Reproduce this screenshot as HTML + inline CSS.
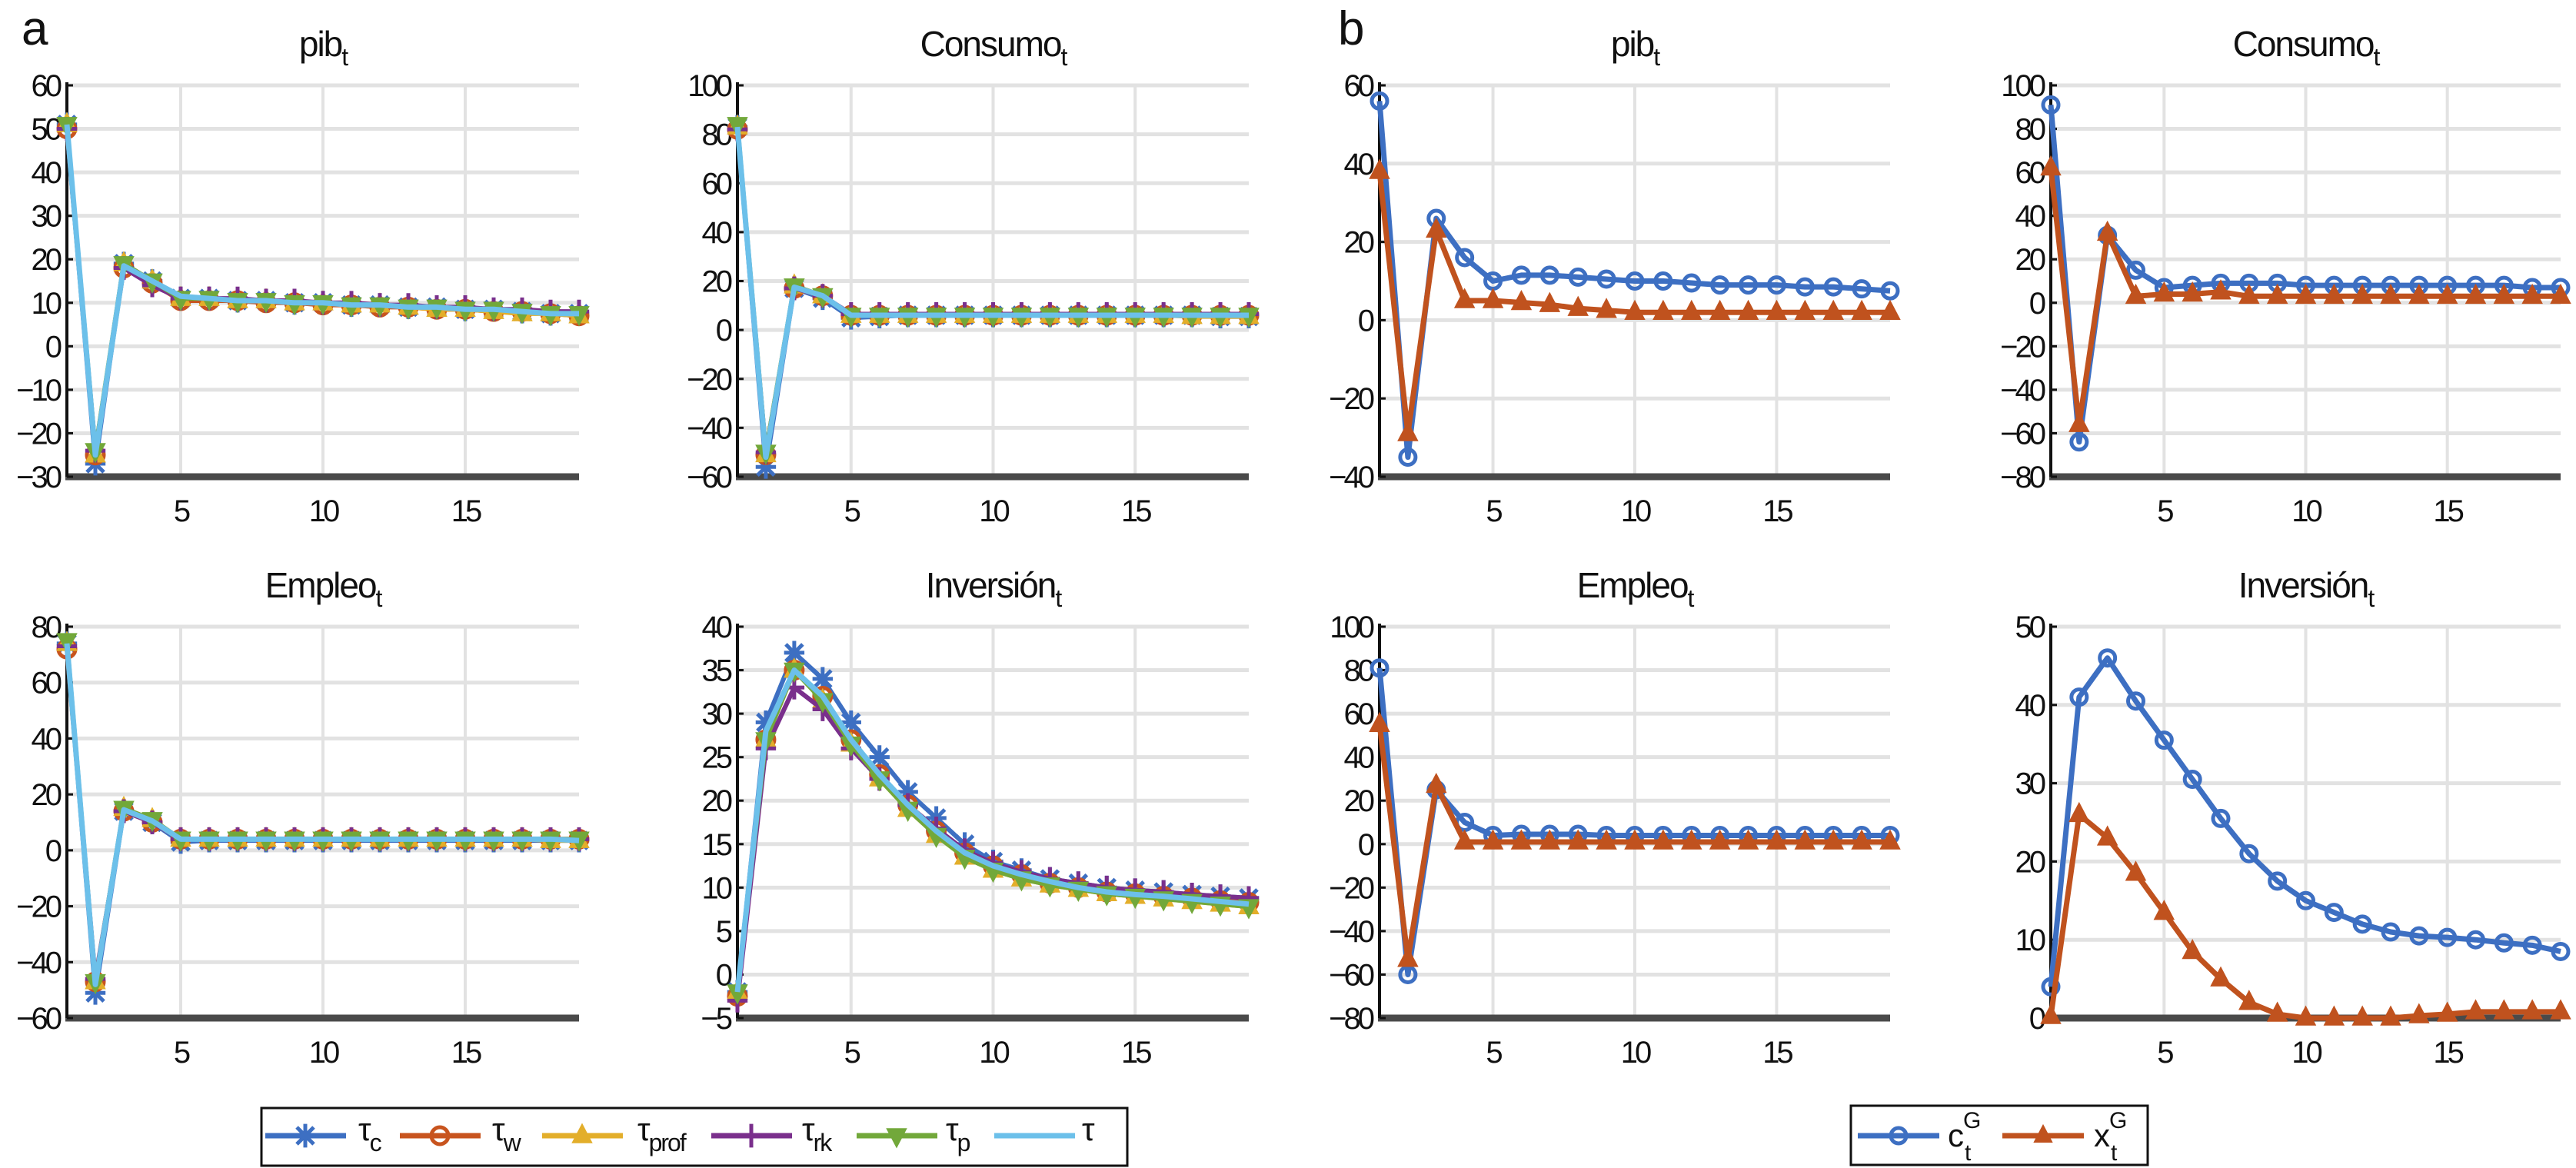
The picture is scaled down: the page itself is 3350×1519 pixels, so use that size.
<!DOCTYPE html>
<html><head><meta charset="utf-8">
<style>
html,body{margin:0;padding:0;background:#fff;}
svg{display:block;font-family:"Liberation Sans",sans-serif;}
</style></head>
<body>
<svg id="fig" width="3350" height="1519" viewBox="0 0 3350 1519"></svg>
<script>
const periods = [1,2,3,4,5,6,7,8,9,10,11,12,13,14,15,16,17,18,19];
const xTicks = [5,10,15];

// Panel a data (tau_c, tau_w, tau_prof, tau_rk, tau_p, tau)
const aPibC   = [51,-27,19,15,11,11,10.5,10.5,10,10,9.5,9.5,9,9,8.5,8.5,8,7.5,7.5];
const aPibW   = [50,-25,18,14.5,10.5,10.5,10.5,10,10,9.5,9.5,9,9,8.5,8.5,8,8,7.5,7];
const aPibProf= [51,-25,19,15,11,11,10.5,10.5,10,10,9.5,9.5,9,8.5,8.5,8,7.5,7.5,7];
const aPibRk  = [50,-24,18,14,11,11,11,10.5,10.5,10,10,9.5,9.5,9,9,8.5,8.5,8,8];
const aPibP   = [51,-24,19,15,11,11,10.5,10.5,10,10,9.5,9.5,9,9,8.5,8.5,8,7.5,7.5];
const aPibT   = [51,-25,18.5,15,11.5,11,10.5,10.5,10,10,9.5,9.5,9,9,8.5,8.5,8,7.5,7.5];

const aConC   = [83,-56,17,13,5,5.5,6,6,6,6,6,6,6,6,6,6,6,5.5,5.5];
const aConW   = [82,-51,17,14,6,6,6,6,6,6,6,6,6,6,6,6,6,6,6];
const aConProf= [83,-51,18,14,6,6,6,6,6,6,6,6,6,6,6,6,5.5,5.5,5.5];
const aConRk  = [82,-50,17,14,6.5,6.5,6.5,6.5,6.5,6.5,6.5,6.5,6.5,6.5,6.5,6.5,6.5,6.5,6.5];
const aConP   = [84,-50,18,14,6,6,6,6,6,6,6,6,6,6,6,6,6,6,6];
const aConT   = [83,-52,17.5,14,6,6,6,6,6,6,6,6,6,6,6,6,6,6,6];

const aEmpC   = [74,-51,14,10,3,3.5,3.5,3.5,3.5,3.5,3.5,3.5,3.5,3.5,3.5,3.5,3.5,3.5,3.5];
const aEmpW   = [72,-47,14,10,4,4,4,4,4,4,4,4,4,4,4,4,4,4,4];
const aEmpProf= [74,-47,15,11,4,4,4,4,4,4,4,4,4,4,4,4,4,3.5,3.5];
const aEmpRk  = [73,-46,14,10,4,4,4,4,4,4,4,4,4,4,4,4,4,4,4];
const aEmpP   = [75,-47,15,11,4,4,4,4,4,4,4,4,4,4,4,4,4,4,4];
const aEmpT   = [74,-48,14.5,10.5,4,4,4,4,4,4,4,4,4,4,4,4,4,4,3.5];

const aInvC   = [-2,29,37,34,29,25,21,18,15,13,12,11,10.5,10,9.7,9.5,9.2,9,8.8];
const aInvW   = [-2.5,27,35,32,27,23,19.5,16.5,14,12.5,11.5,10.5,10,9.5,9.3,9,8.8,8.5,8.3];
const aInvProf= [-2,27,35,31.5,26.5,22.5,19,16,13.5,12,11,10.3,9.8,9.3,9,8.7,8.4,8.1,7.8];
const aInvRk  = [-3,26,33,30.5,26,22.5,19.5,16.8,14.3,12.8,11.8,11,10.5,10,9.7,9.5,9.2,9,8.8];
const aInvP   = [-2,27,35,31.5,26.5,22.5,19,16,13.5,12,11,10.3,9.8,9.3,9,8.7,8.4,8.1,7.8];
const aInvT   = [-2,28,35,32,27,23,19.5,16.5,14,12.5,11.5,10.7,10,9.5,9.2,9,8.7,8.4,8.1];

// Panel b data (c^G, x^G)
const bPibC = [56,-35,26,16,10,11.5,11.5,11,10.5,10,10,9.5,9,9,9,8.5,8.5,8,7.5];
const bPibX = [38,-29,23,5,5,4.5,4,3,2.5,2,2,2,2,2,2,2,2,2,2];
const bConC = [91,-64,31,15,7,8,9,9,9,8,8,8,8,8,8,8,8,7,7];
const bConX = [62,-56,32,3,4,4,5,3,3,3,3,3,3,3,3,3,3,3,3];
const bEmpC = [81,-60,25,10,4,4.5,4.5,4.5,4,4,4,4,4,4,4,4,4,4,4];
const bEmpX = [55,-53,27,1,1,1,1,1,1,1,1,1,1,1,1,1,1,1,1];
const bInvC = [4,41,46,40.5,35.5,30.5,25.5,21,17.5,15,13.5,12,11,10.5,10.3,10,9.6,9.3,8.5];
const bInvX = [0.2,26,23,18.5,13.5,8.5,5,2,0.5,0,0,0,0,0.3,0.5,0.8,0.8,0.8,0.8];

const ticksPibA = [-30,-20,-10,0,10,20,30,40,50,60];
const ticksConA = [-60,-40,-20,0,20,40,60,80,100];
const ticksEmpA = [-60,-40,-20,0,20,40,60,80];
const ticksInvA = [-5,0,5,10,15,20,25,30,35,40];
const ticksPibB = [-40,-20,0,20,40,60];
const ticksConB = [-80,-60,-40,-20,0,20,40,60,80,100];
const ticksEmpB = [-80,-60,-40,-20,0,20,40,60,80,100];
const ticksInvB = [0,10,20,30,40,50];

const NS = "http://www.w3.org/2000/svg";
const svg = document.getElementById('fig');
function mk(tag, attrs, parent){
  const e = document.createElementNS(NS, tag);
  for (const k in attrs) e.setAttribute(k, attrs[k]);
  (parent||svg).appendChild(e);
  return e;
}

const COL = {c:'#3d6fc2', w:'#c8541e', prof:'#e3ae2a', rk:'#7a2f8c', p:'#72a83a', t:'#6cc0ea', o:'#c0521e'};
const seriesA = [
  {k:'c', m:'star', name:'tau-c'},
  {k:'w', m:'circle', name:'tau-w'},
  {k:'prof', m:'tri', name:'tau-prof'},
  {k:'rk', m:'plus', name:'tau-rk'},
  {k:'p', m:'tridown', name:'tau-p'},
  {k:'t', m:'none', name:'tau'}
];

function marker(g, m, x, y, col, s){
  if (m==='circle'){
    mk('circle',{cx:x,cy:y,r:s,fill:'none',stroke:col,'stroke-width':5},g);
  } else if (m==='tri'){
    mk('polygon',{points:`${x},${y-s*1.3} ${x-s*1.1},${y+s*0.8} ${x+s*1.1},${y+s*0.8}`,fill:col,stroke:col,'stroke-width':2},g);
  } else if (m==='tridown'){
    mk('polygon',{points:`${x},${y+s*1.3} ${x-s*1.1},${y-s*0.8} ${x+s*1.1},${y-s*0.8}`,fill:col,stroke:col,'stroke-width':2},g);
  } else if (m==='plus'){
    mk('path',{d:`M${x-s*1.2},${y}H${x+s*1.2}M${x},${y-s*1.4}V${y+s*1.4}`,stroke:col,'stroke-width':5},g);
  } else if (m==='star'){
    mk('path',{d:`M${x-s*1.2},${y}H${x+s*1.2}M${x},${y-s*1.4}V${y+s*1.4}M${x-s},${y-s}L${x+s},${y+s}M${x-s},${y+s}L${x+s},${y-s}`,stroke:col,'stroke-width':5},g);
  }
}

function panel(opts){
  const {x0,x1,y0,y1,ticks,title,series,name} = opts;
  const g = mk('g',{});
  
  
  const ymin = ticks[0], ymax = ticks[ticks.length-1];
  const X = v => x0 + (v-1)/(18)*(x1-x0);
  const Y = v => y1 - (v-ymin)/(ymax-ymin)*(y1-y0);
  for (const t of ticks){
    if (t===ymin) continue;
    const l = mk('line',{x1:x0,x2:x1,y1:Y(t),y2:Y(t),stroke:'#e2e2e2','stroke-width':5},g);
    
    
  }
  for (const t of xTicks){
    const l = mk('line',{x1:X(t),x2:X(t),y1:y0,y2:y1,stroke:'#e2e2e2','stroke-width':4},g);
    
    
  }
  const xa = mk('line',{x1:x0-2,x2:x1,y1:y1,y2:y1,stroke:'#4a4a4a','stroke-width':9},g);
  
  
  const ya = mk('line',{x1:x0,x2:x0,y1:y0-4,y2:y1,stroke:'#111','stroke-width':4},g);
  
  
  for (const t of ticks){
    const tx = mk('text',{x:x0-10,y:Y(t)+14,'text-anchor':'end','font-size':40,fill:'#111','letter-spacing':'-4'},g);
    tx.textContent = (t<0?'\u2212'+(-t):String(t));
    
    
    mk('line',{x1:x0,x2:x0+8,y1:Y(t),y2:Y(t),stroke:'#111','stroke-width':3},g);
  }
  for (const t of xTicks){
    const tx = mk('text',{x:X(t),y:y1+58,'text-anchor':'middle','font-size':40,fill:'#111','letter-spacing':'-4'},g);
    tx.textContent = String(t);
    
    
  }
  const tt = mk('text',{x:(x0+x1)/2,y:y0-38,'text-anchor':'middle','font-size':46,fill:'#111','letter-spacing':'-2'},g);
  
  
  tt.appendChild(document.createTextNode(title));
  const sub = mk('tspan',{dy:12,'font-size':32},tt); sub.textContent='t';
  for (const s of series){
    const sg = mk('g',{},g);
    
    
    const pts = s.data.map((v,i)=>X(periods[i])+','+Y(v)).join(' ');
    mk('polyline',{points:pts,fill:'none',stroke:s.col,'stroke-width':s.lw,'stroke-linejoin':'round'},sg);
    s.data.forEach((v,i)=>marker(sg,s.m,X(periods[i]),Y(v),s.col,s.ms));
  }
}

function aSeries(arrs){
  return seriesA.map((s,i)=>({data:arrs[i],col:COL[s.k],m:s.m,name:s.name,lw:s.k==='t'?7:6,ms:11}));
}
function bSeries(c,x){
  return [{data:c,col:COL.c,m:'circle',name:'c-G',lw:7,ms:10},{data:x,col:COL.o,m:'tri',name:'x-G',lw:7,ms:11}];
}

const T0=111, T1=620, B0=815, B1=1324;
panel({name:'panel-a-pib',x0:87,x1:753,y0:T0,y1:T1,ticks:ticksPibA,title:'pib',series:aSeries([aPibC,aPibW,aPibProf,aPibRk,aPibP,aPibT])});
panel({name:'panel-a-consumo',x0:959,x1:1624,y0:T0,y1:T1,ticks:ticksConA,title:'Consumo',series:aSeries([aConC,aConW,aConProf,aConRk,aConP,aConT])});
panel({name:'panel-a-empleo',x0:87,x1:753,y0:B0,y1:B1,ticks:ticksEmpA,title:'Empleo',series:aSeries([aEmpC,aEmpW,aEmpProf,aEmpRk,aEmpP,aEmpT])});
panel({name:'panel-a-inversion',x0:959,x1:1624,y0:B0,y1:B1,ticks:ticksInvA,title:'Inversión',series:aSeries([aInvC,aInvW,aInvProf,aInvRk,aInvP,aInvT])});
panel({name:'panel-b-pib',x0:1794,x1:2458,y0:T0,y1:T1,ticks:ticksPibB,title:'pib',series:bSeries(bPibC,bPibX)});
panel({name:'panel-b-consumo',x0:2667,x1:3330,y0:T0,y1:T1,ticks:ticksConB,title:'Consumo',series:bSeries(bConC,bConX)});
panel({name:'panel-b-empleo',x0:1794,x1:2458,y0:B0,y1:B1,ticks:ticksEmpB,title:'Empleo',series:bSeries(bEmpC,bEmpX)});
panel({name:'panel-b-inversion',x0:2667,x1:3330,y0:B0,y1:B1,ticks:ticksInvB,title:'Inversión',series:bSeries(bInvC,bInvX)});

const la = mk('text',{x:28,y:58,'font-size':62,fill:'#111'}); la.textContent='a';


const lb = mk('text',{x:1740,y:58,'font-size':62,fill:'#111'}); lb.textContent='b';



const legA = mk('g',{});


mk('rect',{x:340,y:1441,width:1126,height:75,fill:'#fff',stroke:'#111','stroke-width':3},legA);
const legAItems = [
  {k:'c',m:'star',lx:345,tx:466,sub:'c'},
  {k:'w',m:'circle',lx:520,tx:640,sub:'w'},
  {k:'prof',m:'tri',lx:705,tx:829,sub:'prof'},
  {k:'rk',m:'plus',lx:925,tx:1043,sub:'rk'},
  {k:'p',m:'tridown',lx:1114,tx:1230,sub:'p'},
  {k:'t',m:'none',lx:1293,tx:1407,sub:''}
];
const LY=1477;
for (const it of legAItems){
  const g = mk('g',{},legA);
  
  
  mk('line',{x1:it.lx,x2:it.lx+105,y1:LY,y2:LY,stroke:COL[it.k],'stroke-width':7},g);
  marker(g,it.m,it.lx+52,LY,COL[it.k],11);
  const t = mk('text',{x:it.tx,y:LY+6,'font-size':42,fill:'#111','letter-spacing':'-2'},g);
  t.appendChild(document.createTextNode('τ'));
  if (it.sub){const s=mk('tspan',{dy:14,'font-size':32},t); s.textContent=it.sub;}
}
const legB = mk('g',{});


mk('rect',{x:2407,y:1438,width:386,height:77,fill:'#fff',stroke:'#111','stroke-width':3},legB);
const legBItems=[{col:COL.c,m:'circle',lx:2416,tx:2533,ch:'c',n:'c-G'},{col:COL.o,m:'tri',lx:2604,tx:2723,ch:'x',n:'x-G'}];
for (const it of legBItems){
  const g = mk('g',{},legB);
  
  
  mk('line',{x1:it.lx,x2:it.lx+106,y1:LY,y2:LY,stroke:it.col,'stroke-width':7},g);
  marker(g,it.m,it.lx+53,LY,it.col,10);
  const t = mk('text',{x:it.tx,y:LY+14,'font-size':42,fill:'#111'},g);
  t.textContent = it.ch;
  const s1 = mk('text',{x:it.tx+22,y:LY+32,'font-size':30,fill:'#111'},g); s1.textContent='t';
  const s2 = mk('text',{x:it.tx+20,y:LY-10,'font-size':30,fill:'#111'},g); s2.textContent='G';
}
</script>
</body></html>
